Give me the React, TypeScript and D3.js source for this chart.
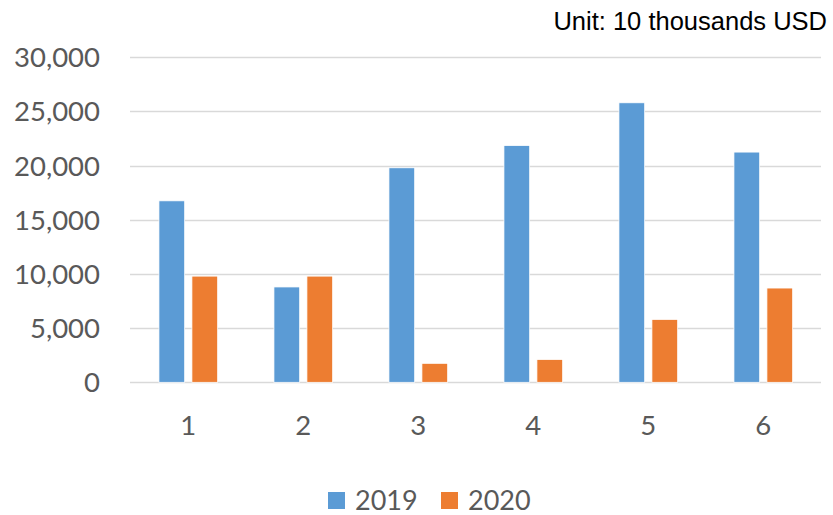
import { useEffect, useRef } from 'react'
import * as d3 from 'd3'

const categories = ['1', '2', '3', '4', '5', '6']
const series = ['2019', '2020']
const values2019 = [16750, 8800, 19800, 21850, 25800, 21250]
const values2020 = [9800, 9800, 1750, 2100, 5800, 8700]
const yTicks = [0, 5000, 10000, 15000, 20000, 25000, 30000]
const colors = ['#5B9BD5', '#ED7D31']
const unitLabel = 'Unit: 10 thousands USD'

export default function App() {
  const svgRef = useRef<SVGSVGElement>(null)

  useEffect(() => {
    if (!svgRef.current) return
    const svg = d3.select(svgRef.current)
    svg.selectAll('*').remove()

    const font = 'Lato, "Open Sans", sans-serif'
    const textColor = '#595959'

    const x = d3.scaleBand<string>()
      .domain(categories)
      .range([130.8, 820.8])
      .paddingInner(0)
      .paddingOuter(0)

    const xInner = d3.scaleBand<string>()
      .domain(series)
      .range([0, 58.7])
      .paddingInner(0.22)

    const y = d3.scaleLinear()
      .domain([0, 30000])
      .range([382.3, 57.3])

    const fmt = d3.format(',')

    // gridlines
    svg.append('g')
      .selectAll('line')
      .data(yTicks)
      .join('line')
      .attr('x1', 130)
      .attr('x2', 821)
      .attr('y1', d => Math.round(y(d)) + 0.5)
      .attr('y2', d => Math.round(y(d)) + 0.5)
      .attr('stroke', '#D9D9D9')
      .attr('stroke-width', 1.5)

    // y labels
    svg.append('g')
      .selectAll('text')
      .data(yTicks)
      .join('text')
      .attr('x', 100)
      .attr('y', d => y(d))
      .attr('dy', '0.36em')
      .attr('text-anchor', 'end')
      .attr('font-family', font)
      .attr('font-size', 27.5)
      .attr('fill', textColor)
      .text(d => fmt(d))

    // bars
    const rows = categories.map((c, i) => ({ c, vals: [values2019[i], values2020[i]] }))
    const groupOffset = (x.bandwidth() - 58.7) / 2
    const groups = svg.append('g')
      .selectAll('g')
      .data(rows)
      .join('g')
      .attr('transform', d => `translate(${(x(d.c) ?? 0) + groupOffset},0)`)

    groups.selectAll('rect')
      .data(d => d.vals.map((v, j) => ({ s: series[j], v, j })))
      .join('rect')
      .attr('x', d => xInner(d.s) ?? 0)
      .attr('width', xInner.bandwidth())
      .attr('y', d => y(d.v))
      .attr('height', d => y(0) - y(d.v))
      .attr('fill', d => colors[d.j])
      .attr('stroke', '#ffffff')
      .attr('stroke-width', 0.75)

    // x labels
    svg.append('g')
      .selectAll('text')
      .data(categories)
      .join('text')
      .attr('x', d => (x(d) ?? 0) + x.bandwidth() / 2)
      .attr('y', 425)
      .attr('dy', '0.36em')
      .attr('text-anchor', 'middle')
      .attr('font-family', font)
      .attr('font-size', 27.5)
      .attr('fill', textColor)
      .text(d => d)

    // legend
    const legendX = [328, 441]
    const legend = svg.append('g')
      .selectAll('g')
      .data(series)
      .join('g')
      .attr('transform', (d, i) => `translate(${legendX[i]},492)`)
    legend.append('rect')
      .attr('width', 17)
      .attr('height', 17)
      .attr('fill', (d, i) => colors[i])
    legend.append('text')
      .attr('x', 27)
      .attr('y', 8)
      .attr('dy', '0.36em')
      .attr('font-family', font)
      .attr('font-size', 27)
      .attr('fill', textColor)
      .text(d => d)

    // unit
    svg.append('text')
      .attr('x', 827)
      .attr('y', 30)
      .attr('text-anchor', 'end')
      .attr('font-family', '"Liberation Sans", Arial, sans-serif')
      .attr('font-size', 25.5)
      .attr('fill', '#000000')
      .text(unitLabel)
  }, [])

  return (
    <svg
      ref={svgRef}
      width={833}
      height={515}
      style={{ position: 'absolute', left: 0, top: 0, background: '#ffffff' }}
    />
  )
}
